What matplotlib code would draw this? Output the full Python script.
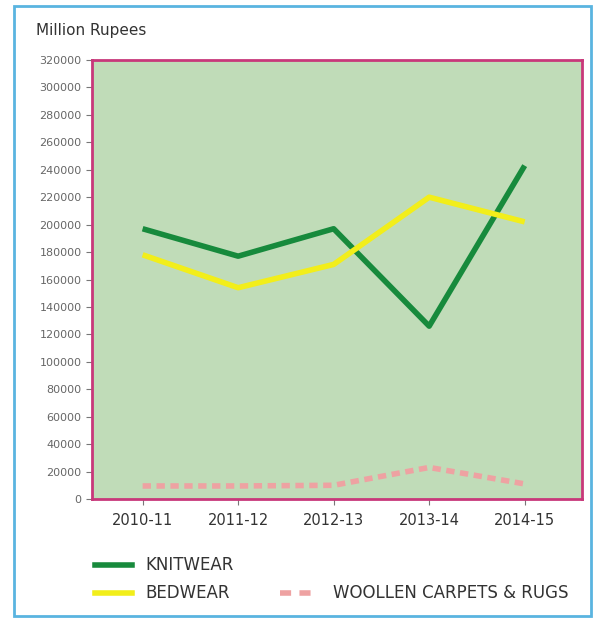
import matplotlib
matplotlib.use("Agg")
import matplotlib.pyplot as plt
from matplotlib.patches import Rectangle
from matplotlib.lines import Line2D

plt.rcParams['font.family'] = ['DejaVu Sans']

years = ["2010-11", "2011-12", "2012-13", "2013-14", "2014-15"]
knitwear = [197000, 177000, 197000, 126000, 243000]
bedwear = [178000, 154000, 171000, 220000, 202000]
woollen = [9500, 9500, 10000, 23000, 11000]
yticks = list(range(0, 320001, 20000))


def main():
    fig = plt.figure(figsize=(5.94, 6.18), dpi=100)
    # outer frame
    fig.patches.append(Rectangle((14/594, 1-616/618), (591-14)/594, (616-6)/618,
                                 transform=fig.transFigure, fill=False,
                                 edgecolor='#5ab4e0', linewidth=2))
    ax = fig.add_axes([92/594, 1-499/618, (582-92)/594, (499-60)/618])
    ax.set_facecolor('#c0dcb8')
    for s in ax.spines.values():
        s.set_color('#c8387a')
        s.set_linewidth(2)

    x = range(len(years))
    ax.plot(x, knitwear, color='#178a3c', linewidth=4, solid_capstyle='butt')
    ax.plot(x, bedwear, color='#f2ee1a', linewidth=4, solid_capstyle='butt')
    ax.plot(x, woollen, color='#eea2a2', linewidth=4, linestyle=(0, (1.5, 1)))

    ax.set_xlim(-0.53, 4.6)
    ax.set_ylim(0, 320000)
    ax.set_xticks(list(x))
    ax.set_xticklabels(years, fontsize=10.5, color='#333333')
    ax.set_yticks(yticks)
    ax.set_yticklabels([str(v) for v in yticks], fontsize=8, color='#666666')
    ax.tick_params(axis='both', direction='out', length=4, width=0.8, color='#777777')
    ax.tick_params(axis='x', pad=6)

    fig.text(36/594, 1-30/618, "Million Rupees", fontsize=11, color='#333333', va='center')

    # legend
    leg_ax = fig.add_axes([0, 0, 1, 1], facecolor='none')
    leg_ax.set_xlim(0, 594)
    leg_ax.set_ylim(618, 0)
    leg_ax.axis('off')
    leg_ax.add_line(Line2D([95, 132], [565, 565], color='#178a3c', linewidth=4))
    leg_ax.text(145, 565, "KNITWEAR", fontsize=12, color='#333333', va='center')
    leg_ax.add_line(Line2D([95, 132], [593, 593], color='#f2ee1a', linewidth=4))
    leg_ax.text(145, 593, "BEDWEAR", fontsize=12, color='#333333', va='center')
    leg_ax.add_line(Line2D([280, 312], [593, 593], color='#eea2a2', linewidth=4,
                           linestyle=(0, (2, 1.5))))
    leg_ax.text(333, 593, "WOOLLEN CARPETS & RUGS", fontsize=12, color='#333333', va='center')

    plt.savefig('out.png', dpi=100)


main()
